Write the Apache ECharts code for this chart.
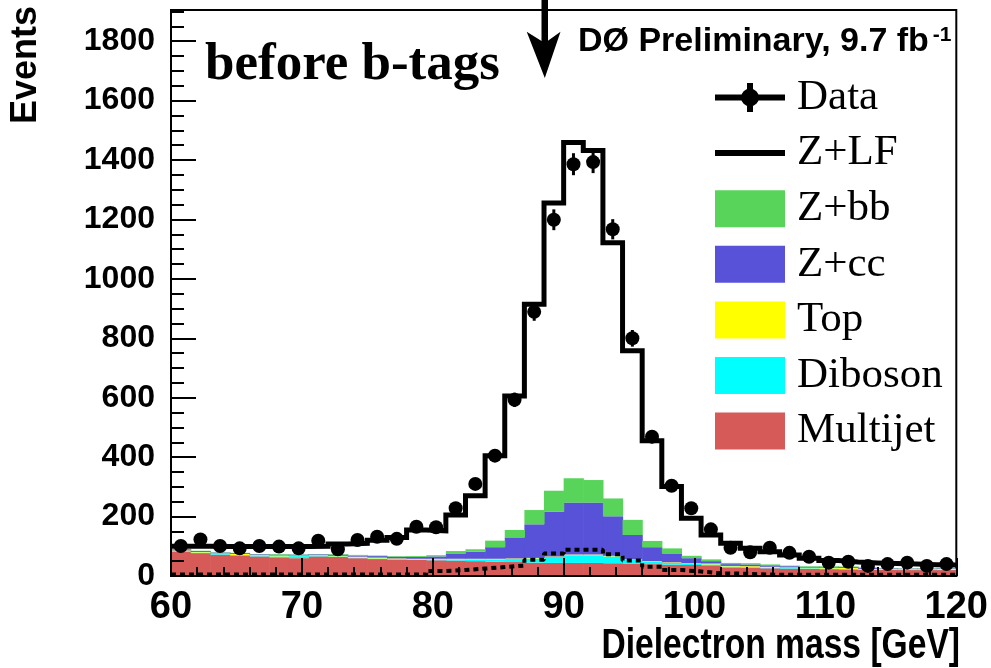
<!DOCTYPE html>
<html>
<head>
<meta charset="utf-8">
<script src="https://cdn.jsdelivr.net/npm/echarts@6/dist/echarts.min.js"></script>
<style>html,body{margin:0;padding:0;background:#fff}#c{width:991px;height:668px}</style>
</head>
<body>
<div id="c"></div>
<script>
// ---- bin edges (GeV) ----
const binEdges = [60,61.5,63,64.5,66,67.5,69,70.5,72,73.5,75,76.5,78,79.5,81,82.5,84,85.5,87,88.5,90,91.5,93,94.5,96,97.5,99,100.5,102,103.5,105,106.5,108,109.5,111,112.5,114,115.5,117,118.5,120];
// ---- observed data ----
const dataCounts = [101,123,101,93,101,99,93,119,90,121,132,125,166,164,228,310,405,593,889,1199,1386,1393,1167,800,469,304,228,157,95,80,95,78,65,45,48,34,40,45,34,40];
const dataErrors = [10,11,10,10,10,10,10,11,9,11,11,11,13,13,15,18,20,24,30,35,37,37,34,28,22,17,15,13,10,9,10,9,8,7,7,6,6,7,6,6];
// ---- stacked backgrounds (bottom to top) ----
const multijet = [82,77,72,69,66,63,60,66,64,60,57,55,54,53,52,50,48,47,45,44,44,44,43,42,40,38,37,36,29,28,26,25,24,23,22,21,21,20,20,20];
const diboson  = [2,2,2,2,2,3,7,2,2,2,2,2,2,3,4,6,8,10,14,20,26,26,23,12,8,6,4,3,3,2,2,2,2,2,2,1,1,1,1,1];
const topQuark = [2,2,2,3,2,3,2,2,2,3,3,2,2,2,2,2,2,2,2,2,2,2,2,2,2,2,2,3,2,3,3,2,2,3,3,2,2,2,2,3];
const zcc      = [4,3,3,3,3,3,3,3,4,4,5,6,6,8,18,24,39,71,113,150,175,175,133,82,47,30,17,8,6,6,5,4,3,3,3,3,2,2,2,2];
const zbb      = [1,1,1,1,1,2,1,1,2,2,2,2,3,4,8,8,22,25,48,71,82,76,60,51,21,17,8,6,4,4,3,2,2,2,2,2,1,1,1,1];
const zlf      = [9,15,19,21,25,25,26,26,34,39,51,63,88,82,121,180,286,451,693,968,1130,1109,861,569,337,208,126,82,66,50,43,36,27,19,15,15,15,14,12,10];
// ---- dashed (unstacked) histogram ----
const dashedHist = [5,5,5,5,5,5,5,5,5,5,5,5,5,17,20,25,30,35,55,76,88,88,73,52,31,20,15,9,8,6,4,4,4,4,4,4,4,4,4,4];
// ---- axis ticks ----
const xTicks = {min:60, max:120, interval:10};
const yTicks = {min:0, max:1905, interval:200};

const COLORS = {multijet:'#d65a57', diboson:'#00ffff', top:'#ffff00', zcc:'#5752d8', zbb:'#59d45b'};

// build stacked layers
const cum = new Array(binEdges.length-1).fill(0);
function layer(vals){
  return vals.map((v,i)=>{const b=cum[i]; cum[i]+=v; return [binEdges[i], binEdges[i+1], b, cum[i]];});
}
const mjD = layer(multijet), dbD = layer(diboson), tpD = layer(topQuark), ccD = layer(zcc), bbD = layer(zbb);
const totals = zlf.map((v,i)=>cum[i]+v);
function stepData(vals){ const d = vals.map((v,i)=>[binEdges[i], v]); d.push([binEdges[binEdges.length-1], vals[vals.length-1]]); return d; }
const centers = binEdges.slice(0,-1).map((e,i)=>(e+binEdges[i+1])/2);

function rectRenderer(color){
  return function(params, api){
    const p0 = api.coord([api.value(0), api.value(3)]);
    const p1 = api.coord([api.value(1), api.value(2)]);
    return {type:'rect', shape:{x:p0[0], y:p0[1], width:p1[0]-p0[0]+0.6, height:p1[1]-p0[1]}, style:{fill:color, opacity:1}};
  };
}
function fillSeries(name, d, color){
  return {name, type:'custom', renderItem:rectRenderer(color), data:d, encode:{x:[0,1], y:[2,3]},
    itemStyle:{color, opacity:1}, color, z:2, silent:true};
}

const SANS = '"Liberation Sans", Arial, Helvetica, sans-serif';
const SERIF = '"Liberation Serif", "Times New Roman", Times, serif';
const dataIcon = 'path://M0,15.5H70V21.5H0Z M32,4H38V33H32Z M44,18.5A9,9,0,1,1,26,18.5A9,9,0,1,1,44,18.5Z';

const chart = echarts.init(document.getElementById('c'), null, {renderer:'canvas'});
chart.setOption({
  animation:false,
  backgroundColor:'#fff',
  grid:{left:171, right:31, top:10, bottom:92, show:true, borderColor:'#000', borderWidth:2, backgroundColor:'transparent'},
  xAxis:{type:'value', min:xTicks.min, max:xTicks.max, interval:xTicks.interval, z:10,
    axisLine:{show:true, onZero:false, lineStyle:{color:'#000', width:2}},
    axisTick:{show:true, inside:true, length:18, lineStyle:{color:'#000', width:2}},
    minorTick:{show:true, splitNumber:5, length:9, lineStyle:{color:'#000', width:2}},
    axisLabel:{margin:13, color:'#000', fontSize:38, fontWeight:'bold', fontFamily:SANS, formatter:v=>String(v)},
    splitLine:{show:false}, minorSplitLine:{show:false}},
  yAxis:{type:'value', min:yTicks.min, max:yTicks.max, interval:yTicks.interval, z:10,
    axisLine:{show:true, onZero:false, lineStyle:{color:'#000', width:2}},
    axisTick:{show:true, inside:true, length:25, lineStyle:{color:'#000', width:2}},
    minorTick:{show:true, splitNumber:4, length:13, lineStyle:{color:'#000', width:2}},
    axisLabel:{margin:16, color:'#000', fontSize:32, fontWeight:'bold', fontFamily:SANS, showMaxLabel:false, formatter:v=>String(v)},
    splitLine:{show:false}, minorSplitLine:{show:false}},
  legend:{orient:'vertical', left:715, top:76, padding:0, itemWidth:70, itemHeight:37, itemGap:12.6,
    selectedMode:false,
    textStyle:{fontFamily:SERIF, fontSize:43, color:'#000', padding:[0,0,0,7]},
    data:[
      {name:'Data', icon:dataIcon, itemStyle:{color:'#000', opacity:1}},
      {name:'Z+LF', icon:'path://M0,0H70V6H0Z', itemStyle:{color:'#000'}},
      {name:'Z+bb', icon:'rect', itemStyle:{color:COLORS.zbb}},
      {name:'Z+cc', icon:'rect', itemStyle:{color:COLORS.zcc}},
      {name:'Top', icon:'rect', itemStyle:{color:COLORS.top}},
      {name:'Diboson', icon:'rect', itemStyle:{color:COLORS.diboson}},
      {name:'Multijet', icon:'rect', itemStyle:{color:COLORS.multijet}}
    ]},
  graphic:[
    {type:'text', x:205, y:65, z:20, style:{text:'before b-tags', fontFamily:SERIF, fontWeight:'bold', fontSize:53, fill:'#000', align:'left', verticalAlign:'middle'}},
    {type:'text', x:578, y:42, z:20, style:{text:'{m|DØ Preliminary, 9.7 fb}{s|-1}', align:'left', verticalAlign:'middle',
      rich:{m:{fontFamily:SANS, fontWeight:'bold', fontSize:34, fill:'#000'}, s:{fontFamily:SANS, fontWeight:'bold', fontSize:21, fill:'#000', verticalAlign:'top', padding:[0,0,0,4]}}}},
    {type:'text', x:26, y:65, rotation:Math.PI/2, z:20, style:{text:'Events', fontFamily:SANS, fontWeight:'bold', fontSize:36, fill:'#000', align:'center', verticalAlign:'middle'}},
    {type:'text', x:960, y:646, scaleX:0.8, z:20, style:{text:'Dielectron mass [GeV]', fontFamily:SANS, fontWeight:'bold', fontSize:42, fill:'#000', align:'right', verticalAlign:'middle'}},
    {type:'group', z:20, children:[
      {type:'rect', shape:{x:541.5, y:0, width:6.5, height:44}, style:{fill:'#000'}},
      {type:'polygon', shape:{points:[[526.7,31.7],[544.8,43],[560.5,31.7],[544.8,78]]}, style:{fill:'#000'}}
    ]}
  ],
  series:[
    fillSeries('Multijet', mjD, COLORS.multijet),
    fillSeries('Diboson', dbD, COLORS.diboson),
    fillSeries('Top', tpD, COLORS.top),
    fillSeries('Z+cc', ccD, COLORS.zcc),
    fillSeries('Z+bb', bbD, COLORS.zbb),
    {name:'dashed', type:'line', step:'end', data:stepData(dashedHist), symbol:'none', z:3, silent:true,
      lineStyle:{color:'#000', width:4, type:[5,4]}, color:'#000'},
    {name:'Z+LF', type:'line', step:'end', data:stepData(totals), symbol:'none', z:4, silent:true,
      lineStyle:{color:'#000', width:5, join:'miter'}, itemStyle:{color:'#000'}, color:'#000'},
    {name:'errors', type:'custom', z:5, silent:true, data:centers.map((c,i)=>[c, dataCounts[i]-dataErrors[i], dataCounts[i]+dataErrors[i]]),
      encode:{x:0, y:[1,2]},
      renderItem:function(params, api){
        const a = api.coord([api.value(0), api.value(1)]);
        const b = api.coord([api.value(0), api.value(2)]);
        return {type:'line', shape:{x1:a[0], y1:a[1], x2:b[0], y2:b[1]}, style:{stroke:'#000', lineWidth:3}};
      }},
    {name:'Data', type:'scatter', z:6, silent:true, symbol:'circle', symbolSize:14,
      data:centers.map((c,i)=>[c, dataCounts[i]]), itemStyle:{color:'#000', opacity:1}, color:'#000'}
  ]
});
</script>
</body>
</html>
